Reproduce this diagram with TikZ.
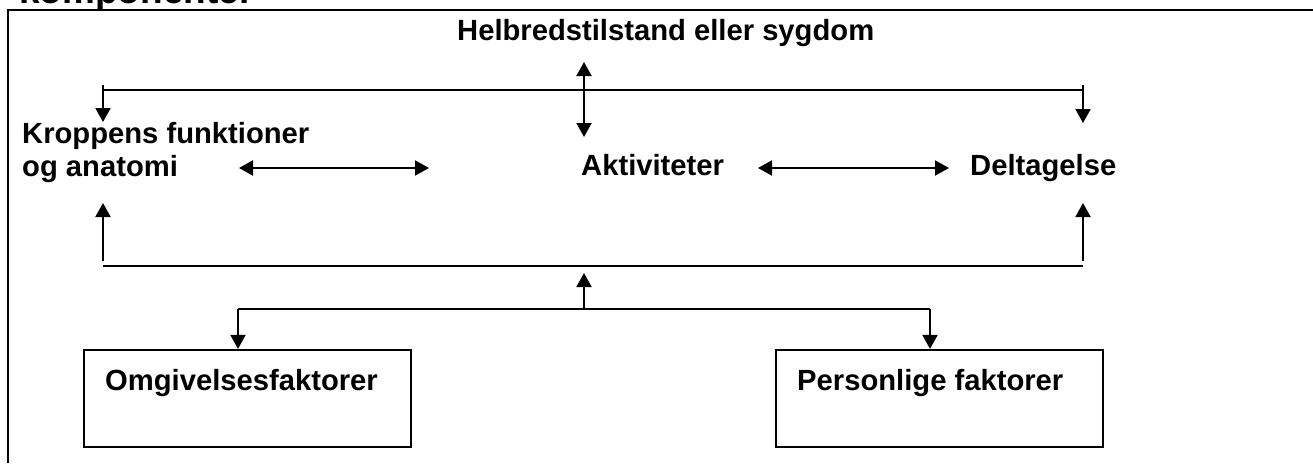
\documentclass[tikz,border=0pt]{standalone}
\usepackage{fontspec}
\setmainfont{Liberation Sans}
\usetikzlibrary{arrows.meta}
\tikzset{
  lbl/.style={inner sep=0pt, anchor=base west, font=\bfseries\fontsize{29.2}{34}\selectfont},
  bus/.style={line width=1.7pt},
  arr/.style={line width=2pt, -{Triangle[length=14pt,width=15pt]}},
  darr/.style={line width=2pt, {Triangle[length=14pt,width=15pt]}-{Triangle[length=14pt,width=15pt]}},
  boxnode/.style={draw, line width=2.2pt, minimum width=327pt, minimum height=97pt, inner sep=0pt},
  frame/.style={line width=2.6pt}
}
\begin{document}
\begin{tikzpicture}[x=1pt,y=-1pt]
\fill[white] (0,0) rectangle (1313,463);
\useasboundingbox (0,0) rectangle (1313,463);
% cut-off heading (as in the reference, only its lower part shows)
\node[inner sep=0pt, anchor=base west, font=\bfseries\fontsize{37}{40}\selectfont] (head) at (19,4) {komponenter};
% frame
\draw[frame] (8,463) -- (8,10) -- (1313,10);
% labels
\node[lbl] (hs) at (457,40) {Helbredstilstand eller sygdom};
\node[lbl] (kf1) at (22,143) {Kroppens funktioner};
\node[lbl] (kf2) at (22,176) {og anatomi};
\node[lbl] (akt) at (581,175) {Aktiviteter};
\node[lbl] (del) at (970,175) {Deltagelse};
% boxes
\node[boxnode] (omg) at (247.5,398.5) {};
\node[lbl] (omgt) at (105,390) {Omgivelsesfaktorer};
\node[boxnode] (per) at (939.5,398.5) {};
\node[lbl] (pert) at (797,390) {Personlige faktorer};
% coordinates
\coordinate (ubl) at (103,90);
\coordinate (ubr) at (1083,90);
\coordinate (lbl0) at (103,266);
\coordinate (lbr) at (1083,266);
\coordinate (b2l) at (238,309);
\coordinate (b2r) at (930,309);
\coordinate (b2m) at (584,309);
% upper bus and down arrows
\draw[bus] (ubl) -- (ubr);
\draw[arr] (103,85) -- (103,122);
\draw[arr] (1083,85) -- (1083,123);
% vertical double arrow between health and activities
\draw[darr] (584,62) -- (584,137);
% horizontal double arrows
\draw[darr] (239,168) -- (429,168);
\draw[darr] (758,168) -- (949,168);
% lower bus and up arrows
\draw[bus] (lbl0) -- (lbr);
\draw[arr] (103,261) -- (103,203);
\draw[arr] (1083,261) -- (1083,203);
% middle up arrow
\draw[arr] (b2m) -- (584,273);
% second bus and down arrows to boxes
\draw[bus] (b2l) -- (b2r);
\draw[arr] (b2l) -- (b2l |- omg.north);
\draw[arr] (b2r) -- (b2r |- per.north);
\end{tikzpicture}
\end{document}
